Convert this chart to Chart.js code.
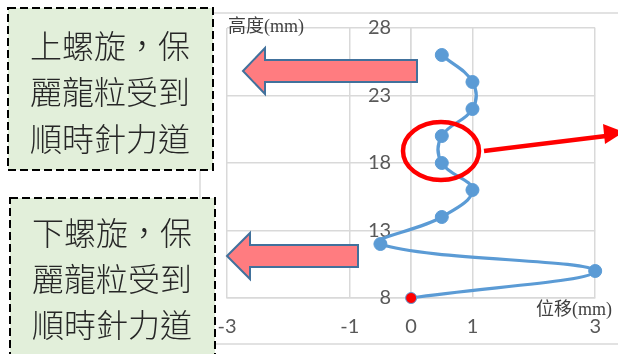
<!DOCTYPE html>
<html>
<head>
<meta charset="utf-8">
<script src="https://cdn.jsdelivr.net/npm/chart.js@4/dist/chart.umd.min.js"></script>
<style>
  html, body { margin: 0; padding: 0; background: #fff; overflow: hidden; }
  #wrap { position: relative; width: 618px; height: 354px; }
  #wrap canvas, #wrap svg { position: absolute; left: 0; top: 0; }
</style>
</head>
<body>
<div id="wrap">
  <svg id="back" width="618" height="354">
    <rect x="200" y="13" width="440" height="331" fill="#fff" stroke="#D9D9D9" stroke-width="1.5"/>
  </svg>
  <canvas id="chart" width="618" height="354"></canvas>
  <svg id="front" width="618" height="354">
    <!-- axis titles -->
    <text x="228" y="32" font-family="'Liberation Serif','Noto Sans CJK TC'" font-size="18" fill="#404040">高度(mm)</text>
    <text x="536" y="315" font-family="'Liberation Serif','Noto Sans CJK TC'" font-size="18" fill="#404040">位移(mm)</text>

    <!-- upper note -->
    <rect x="8" y="8" width="205" height="162" fill="#E2EFDA" stroke="#000" stroke-width="2" stroke-dasharray="8 4"/>
    <g font-family="'Noto Sans CJK TC'" font-weight="300" font-size="32" fill="#262626" text-anchor="middle">
      <text x="110" y="58">上螺旋，保</text>
      <text x="110" y="104">麗龍粒受到</text>
      <text x="110" y="151">順時針力道</text>
    </g>

    <!-- lower note -->
    <rect x="10" y="198" width="205" height="170" fill="#E2EFDA" stroke="#000" stroke-width="2" stroke-dasharray="8 4"/>
    <g font-family="'Noto Sans CJK TC'" font-weight="300" font-size="32" fill="#262626" text-anchor="middle">
      <text x="112" y="245">下螺旋，保</text>
      <text x="112" y="291">麗龍粒受到</text>
      <text x="112" y="337">順時針力道</text>
    </g>

    <!-- block arrows -->
    <polygon points="243,71 265,48 265,60 417,60 417,82 265,82 265,94" fill="#FF7C80" stroke="#41719C" stroke-width="2"/>
    <polygon points="227,256 250,233 250,245 358,245 358,267 250,267 250,279" fill="#FF7C80" stroke="#41719C" stroke-width="2"/>

    <!-- highlight -->
    <ellipse cx="441" cy="151" rx="38" ry="29" fill="none" stroke="#FF0000" stroke-width="4.5"/>
    <line x1="484" y1="151" x2="606" y2="136" stroke="#FF0000" stroke-width="4.5"/>
    <polygon points="624,132 605,144 603,124" fill="#FF0000"/>
  </svg>
</div>
<script>
// displacement (mm) vs height (mm)
const heights = [8, 10, 12, 14, 16, 18, 20, 22, 24, 26];
const displacements = [0, 3, -0.5, 0.5, 1, 0.5, 0.5, 1, 1, 0.5];
const xTicks = [-3, -1, 0, 1, 3];
const yTicks = [8, 13, 18, 23, 28];

const points = heights.map((h, i) => ({ x: displacements[i], y: h }));
const pointColors = heights.map((h, i) => i === 0 ? '#FF0000' : '#5B9BD5');
const pointSizes = heights.map((h, i) => i === 0 ? 5.5 : 6.5);

const gridColor = '#D9D9D9';
const tickFont = { family: 'Lato', size: 20 };

new Chart(document.getElementById('chart'), {
  type: 'scatter',
  data: {
    datasets: [{
      data: points,
      showLine: true,
      clip: false,
      tension: 0.4,
      borderColor: '#5B9BD5',
      borderWidth: 3.2,
      pointBackgroundColor: pointColors,
      pointBorderColor: '#5B9BD5',
      pointBorderWidth: 1,
      pointRadius: pointSizes
    }]
  },
  options: {
    responsive: false,
    animation: false,
    layout: { padding: { left: 227, right: 20, top: 28, bottom: 0 } },
    plugins: { legend: { display: false }, tooltip: { enabled: false } },
    scales: {
      x: {
        type: 'linear',
        min: -3,
        max: 3,
        afterBuildTicks: scale => { scale.ticks = xTicks.map(v => ({ value: v })); },
        afterFit: scale => { scale.height = 56; },
        grid: { color: gridColor, lineWidth: 1.5, drawTicks: false },
        border: { color: gridColor, width: 1.5 },
        ticks: { color: '#595959', font: tickFont, padding: 17, maxRotation: 0, autoSkip: false }
      },
      y: {
        type: 'linear',
        position: { x: 0 },
        min: 8,
        max: 28,
        afterBuildTicks: scale => { scale.ticks = yTicks.map(v => ({ value: v })); },
        grid: { color: gridColor, lineWidth: 1.5, drawTicks: false },
        border: { color: gridColor, width: 1.5 },
        // labels sit left of the x=0 axis, pushed off it with two en spaces
        ticks: { color: '#595959', font: tickFont, padding: 0, autoSkip: false, callback: v => v + '\u2002\u2002' }
      }
    }
  }
});
</script>
</body>
</html>
